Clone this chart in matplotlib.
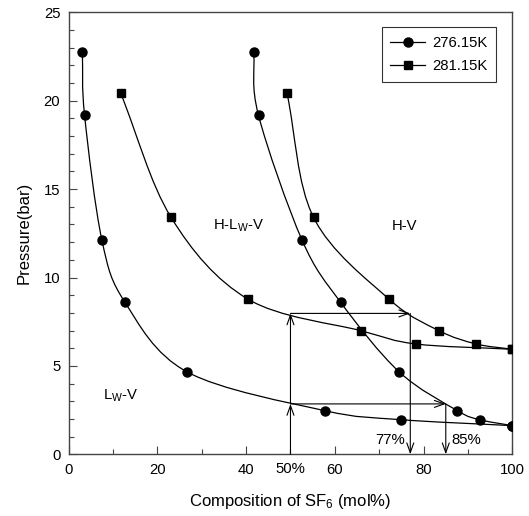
import numpy as np
import matplotlib
matplotlib.use("Agg")
import matplotlib.pyplot as plt
from matplotlib.path import Path
from matplotlib.patches import PathPatch
from matplotlib.lines import Line2D

plt.rcParams['font.family'] = ['Liberation Sans', 'DejaVu Sans']
plt.rcParams['mathtext.default'] = 'regular'

# ---- data ----
# 276.15 K
p_276 = [22.74, 19.17, 12.12, 8.60, 4.66, 2.47, 1.96, 1.62]
x_276_lwv = [3.1, 3.6, 7.5, 12.7, 26.7, 57.7, 74.8, 100.0]
x_276_hv = [41.7, 42.8, 52.6, 61.3, 74.5, 87.6, 92.6, 100.0]
# 281.15 K
p_281 = [20.45, 13.40, 8.78, 6.99, 6.24, 5.94]
x_281_lwv = [11.7, 23.1, 40.4, 65.9, 78.3, 100.0]
x_281_hv = [49.2, 55.2, 72.2, 83.5, 91.9, 100.0]

legend_labels = ['276.15K', '281.15K']
region_labels = ['H-L$_W$-V', 'H-V', 'L$_W$-V']
region_pos = [(38.4, 12.9), (75.7, 12.9), (11.7, 3.3)]

feed_x = 50
feed_p = [2.85, 7.97]
vapor_x = [85, 77]
pct_labels = ['85%', '77%', '50%']

xticks = [0, 20, 40, 60, 80, 100]
yticks = [0, 5, 10, 15, 20, 25]

FS = 10.7


def smooth_path(xs, ys):
    pts = np.column_stack([xs, ys]).astype(float)
    n = len(pts)
    ext = np.vstack([pts[0] - (pts[1] - pts[0]), pts, pts[-1] + (pts[-1] - pts[-2])])
    verts = [tuple(pts[0])]
    codes = [Path.MOVETO]
    for i in range(n - 1):
        p0, p1, p2, p3 = ext[i], ext[i + 1], ext[i + 2], ext[i + 3]
        c1 = p1 + (p2 - p0) / 6.0
        c2 = p2 - (p3 - p1) / 6.0
        verts += [tuple(c1), tuple(c2), tuple(p2)]
        codes += [Path.CURVE4] * 3
    return Path(verts, codes)


fig = plt.figure(figsize=(5.29, 5.16), dpi=100)
ax = fig.add_axes([0.1297, 0.1196, 0.9685 - 0.1297, 0.976 - 0.1196])

for xs, ys, mk, ms in [(x_276_lwv, p_276, 'o', 6.5), (x_276_hv, p_276, 'o', 6.5),
                       (x_281_lwv, p_281, 's', 6.0), (x_281_hv, p_281, 's', 6.0)]:
    ax.add_patch(PathPatch(smooth_path(xs, ys), facecolor='none', edgecolor='black', lw=0.9))
    ax.plot(xs, ys, linestyle='none', marker=mk, markersize=ms, color='black', zorder=3)

# tie lines / arrows
ap = dict(arrowstyle='->,head_length=0.7,head_width=0.25', lw=0.8, color='black',
          shrinkA=0, shrinkB=0, mutation_scale=10)
ax.annotate('', xy=(feed_x, feed_p[0]), xytext=(feed_x, 0), arrowprops=ap)
ax.annotate('', xy=(feed_x, feed_p[1]), xytext=(feed_x, feed_p[0]), arrowprops=ap)
for xv, pv in zip(vapor_x, feed_p):
    ax.annotate('', xy=(xv, pv), xytext=(feed_x, pv), arrowprops=ap)
    ax.annotate('', xy=(xv, 0), xytext=(xv, pv), arrowprops=ap)

ax.text(vapor_x[0] + 1.2, 0.8, pct_labels[0], fontsize=FS, ha='left', va='center')
ax.text(vapor_x[1] - 1.2, 0.8, pct_labels[1], fontsize=FS, ha='right', va='center')
ax.text(feed_x, -0.85, pct_labels[2], fontsize=FS, ha='center', va='center', clip_on=False)

for lab, (tx, ty) in zip(region_labels, region_pos):
    ax.text(tx, ty, lab, fontsize=FS, ha='center', va='center')

ax.set_xlim(0, 100)
ax.set_ylim(0, 25)
ax.set_xticks(xticks)
ax.set_yticks(yticks)
ax.set_xticks(np.arange(10, 100, 20), minor=True)
ax.set_yticks([v for v in range(26) if v % 5], minor=True)
ax.tick_params(which='both', direction='in', labelsize=FS, top=False, right=False,
               width=0.8, color='#444444')
ax.tick_params(which='major', length=6, pad=6)
ax.tick_params(which='minor', length=3.5)
for s in ax.spines.values():
    s.set_color('#444444')
    s.set_linewidth(1.0)

ax.set_xlabel('Composition of SF$_6$ (mol%)', fontsize=12, labelpad=11)
ax.set_ylabel('Pressure(bar)', fontsize=12, labelpad=9)

handles = [Line2D([], [], color='black', lw=0.9, marker='o', markersize=6.5),
           Line2D([], [], color='black', lw=0.9, marker='s', markersize=6.0)]
leg = ax.legend(handles, legend_labels, loc='upper right', bbox_to_anchor=(0.964, 0.967),
                fontsize=FS, frameon=True, fancybox=False, edgecolor='black',
                handlelength=2.3, handletextpad=0.5, labelspacing=0.6,
                borderpad=0.6, borderaxespad=0)
leg.get_frame().set_linewidth(0.8)

fig.savefig('out.png', dpi=100)
